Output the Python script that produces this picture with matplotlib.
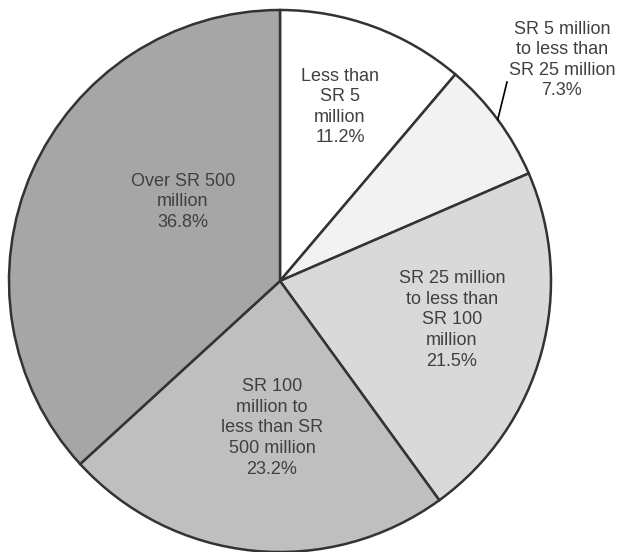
import numpy as np
import matplotlib
matplotlib.use("Agg")
import matplotlib.pyplot as plt

categories = [
    "Less than\nSR 5\nmillion",
    "SR 5 million\nto less than\nSR 25 million",
    "SR 25 million\nto less than\nSR 100\nmillion",
    "SR 100\nmillion to\nless than SR\n500 million",
    "Over SR 500\nmillion",
]
values = [11.2, 7.3, 21.5, 23.2, 36.8]
colors = ["#ffffff", "#f2f2f2", "#d9d9d9", "#bfbfbf", "#a6a6a6"]

W, H = 622, 552
cx, cy, R = 280, 281, 271

fig = plt.figure(figsize=(W / 100, H / 100), dpi=100)
ax = fig.add_axes([0, 0, 1, 1])
wedges, _ = ax.pie(values, colors=colors, startangle=90, counterclock=False,
                   radius=1.0, center=(0, 0),
                   wedgeprops=dict(edgecolor="#333333", linewidth=1.8))
ax.set_xlim(-cx / R, (W - cx) / R)
ax.set_ylim(-(H - cy) / R, cy / R)
ax.set_aspect("equal")
ax.axis("off")

# label centres in pixel space (text placement)
label_px = [(340, 107), (562, 60), (452, 320), (272, 428), (183, 202)]

def to_data(p):
    return ((p[0] - cx) / R, (cy - p[1]) / R)

for cat, val, p in zip(categories, values, label_px):
    x, y = to_data(p)
    ax.text(x, y, f"{cat}\n{val:.1f}%", ha="center", va="center",
            fontsize=13, color="#404040", family="Liberation Sans",
            linespacing=1.27)

# leader line for the small slice
w = wedges[1]
mid = np.deg2rad((w.theta1 + w.theta2) / 2)
ex, ey = to_data((507, 82))
ax.plot([np.cos(mid), ex], [np.sin(mid), ey], color="black", lw=1.2)

fig.savefig("out.png", dpi=100)
